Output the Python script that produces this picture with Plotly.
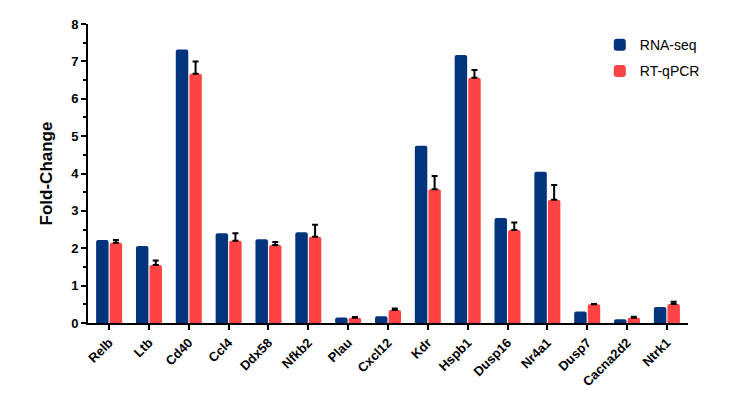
import plotly.graph_objects as go

genes = ["Relb", "Ltb", "Cd40", "Ccl4", "Ddx58", "Nfkb2", "Plau", "Cxcl12",
         "Kdr", "Hspb1", "Dusp16", "Nr4a1", "Dusp7", "Cacna2d2", "Ntrk1"]
rna_seq = [2.22, 2.06, 7.32, 2.40, 2.24, 2.43, 0.15, 0.18,
           4.74, 7.17, 2.81, 4.05, 0.31, 0.10, 0.43]
rt_qpcr = [2.15, 1.55, 6.67, 2.20, 2.09, 2.31, 0.14, 0.35,
           3.58, 6.56, 2.49, 3.30, 0.50, 0.14, 0.51]
rt_qpcr_err = [0.07, 0.12, 0.33, 0.20, 0.08, 0.32, 0.02, 0.04,
               0.35, 0.21, 0.20, 0.39, 0.01, 0.03, 0.06]

BLUE = "#02347e"
RED = "#fd4343"
FONT = "Liberation Sans, Arial, sans-serif"

fig = go.Figure()
fig.add_trace(go.Bar(x=genes, y=rna_seq, name="RNA-seq", marker_color=BLUE,
                     marker_line_width=0, legendgroup="a"))
fig.add_trace(go.Bar(x=genes, y=rt_qpcr, name="RT-qPCR", marker_color=RED,
                     marker_line_width=0, legendgroup="b",
                     error_y=dict(type="data", array=rt_qpcr_err, symmetric=False,
                                  arrayminus=[0] * len(rt_qpcr_err),
                                  color="black", thickness=2, width=3)))

# page body has an 8px margin, so the figure is sized/offset to compensate
fig.update_layout(
    width=723, height=385,
    margin=dict(l=80, r=43, t=16, b=70),
    paper_bgcolor="white", plot_bgcolor="white",
    barmode="group", bargap=0.32, bargroupgap=0.08,
    barcornerradius=2,
    font=dict(family=FONT, color="black"),
    legend=dict(x=0.853, y=0.983, xanchor="left", yanchor="top",
                font=dict(size=14, family=FONT), tracegroupgap=5,
                itemwidth=30, bgcolor="rgba(0,0,0,0)"),
    xaxis=dict(range=[-0.53, 14.53], showline=True, linecolor="black", linewidth=2,
               ticks="outside", ticklen=5, tickwidth=2, tickcolor="black",
               tickangle=-45, tickfont=dict(size=13, family=FONT, weight="bold"),
               showgrid=False, zeroline=False, automargin=False),
    yaxis=dict(range=[0, 8], showline=True, linecolor="black", linewidth=2,
               ticks="outside", ticklen=5, tickwidth=2, tickcolor="black",
               dtick=1, tickfont=dict(size=13, family=FONT, weight="bold"),
               minor=dict(ticks="outside", dtick=0.5, ticklen=3, tickwidth=2,
                          tickcolor="black", showgrid=False),
               title=dict(text="Fold-Change", font=dict(size=17, family=FONT, weight="bold"),
                          standoff=14),
               showgrid=False, zeroline=False, automargin=False),
)

fig.write_html("out.html")
